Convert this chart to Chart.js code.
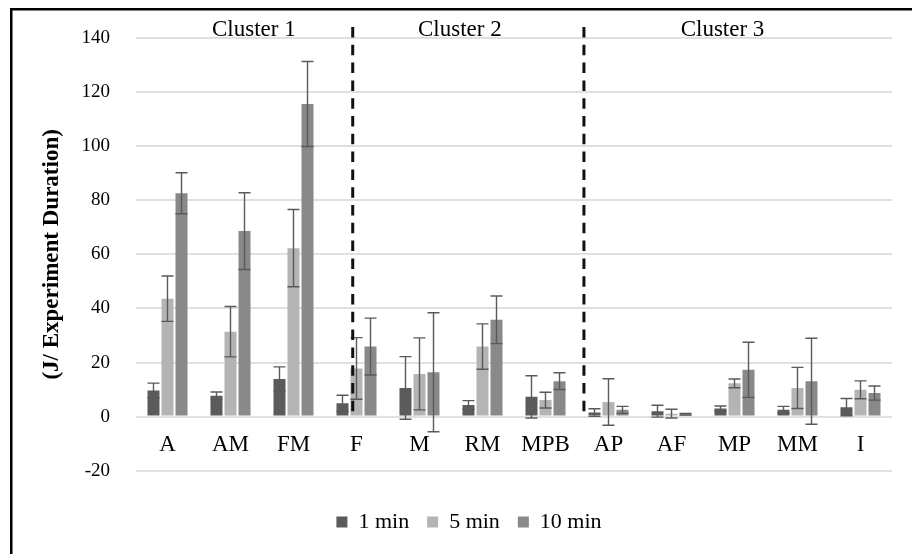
<!DOCTYPE html>
<html><head><meta charset="utf-8">
<script src="https://cdn.jsdelivr.net/npm/chart.js@4"></script>
<style>html,body{margin:0;padding:0;background:#fff}canvas{display:block}</style>
</head><body>
<canvas id="c" width="912" height="554"></canvas>
<script>
// ---- data ----
const categories = ['A','AM','FM','F','M','RM','MPB','AP','AF','MP','MM','I'];
const seriesNames = ['1 min','5 min','10 min'];
const min1  = [9.7, 7.7, 13.9, 4.9, 10.6, 4.3, 7.3, 1.5, 2.0, 3.0, 2.5, 3.5];
const min5  = [43.6, 31.4, 62.3, 17.8, 15.8, 25.9, 6.1, 5.4, 1.1, 12.3, 10.6, 9.9];
const min10 = [82.6, 68.6, 115.6, 25.9, 16.4, 35.8, 13.1, 2.5, 0.9, 17.3, 13.1, 8.7];
const err1  = [2.7, 1.4, 4.5, 3.0, 11.6, 1.6, 7.8, 1.4, 2.2, 0.9, 1.3, 3.2];
const err5  = [8.4, 9.3, 14.3, 11.4, 13.3, 8.4, 2.9, 8.6, 1.6, 1.6, 7.6, 3.3];
const err10 = [7.6, 14.2, 15.7, 10.5, 22.0, 8.8, 3.1, 1.3, 0.3, 10.2, 15.9, 2.6];
const clusterNames = ['Cluster 1','Cluster 2','Cluster 3'];
const yMin = -20, yMax = 140, yStep = 20;

const FONT = "'Liberation Serif','Times New Roman',serif";

const errorBars = {
  id: 'errorBars',
  afterDatasetsDraw(chart, args, opts) {
    const {ctx} = chart; const y = chart.scales.y;
    ctx.save();
    ctx.strokeStyle = opts.color; ctx.lineWidth = opts.width;
    chart.data.datasets.forEach((ds, di) => {
      const meta = chart.getDatasetMeta(di);
      meta.data.forEach((bar, i) => {
        const v = ds.data[i], e = ds.errors[i];
        const yt = y.getPixelForValue(v + e), yb = y.getPixelForValue(v - e);
        const h = bar.width / 2;
        ctx.beginPath();
        ctx.moveTo(bar.x, yt); ctx.lineTo(bar.x, yb);
        ctx.moveTo(bar.x - h, yt); ctx.lineTo(bar.x + h, yt);
        ctx.moveTo(bar.x - h, yb); ctx.lineTo(bar.x + h, yb);
        ctx.stroke();
      });
    });
    ctx.restore();
  }
};

const clusters = {
  id: 'clusters',
  afterLayout(chart, args, opts) {
    if (chart.legend) { chart.legend.left += opts.legendShift; chart.legend.right += opts.legendShift; }
  },
  afterDatasetsDraw(chart, args, opts) {
    const {ctx, chartArea} = chart; const x = chart.scales.x, y = chart.scales.y;
    const p0 = x.getPixelForValue(0), p1 = x.getPixelForValue(1);
    const px = u => p0 + u * (p1 - p0);
    ctx.save();
    ctx.strokeStyle = '#111'; ctx.lineWidth = 3; ctx.setLineDash([10.5, 7.3]);
    opts.dividers.forEach(u => {
      ctx.beginPath();
      ctx.moveTo(px(u), chartArea.top - 11);
      ctx.lineTo(px(u), y.getPixelForValue(0));
      ctx.stroke();
    });
    ctx.setLineDash([]);
    ctx.fillStyle = '#000'; ctx.font = '23px ' + FONT;
    ctx.textAlign = 'center'; ctx.textBaseline = 'middle';
    clusterNames.forEach((t, i) => ctx.fillText(t, px(opts.centers[i]), chartArea.top - 8));
    // outer frame (left and top edges visible)
    ctx.fillStyle = '#000';
    ctx.fillRect(10, 8, 2.5, 554);
    ctx.fillRect(10, 8, 912, 2.5);
    ctx.restore();
  }
};

new Chart(document.getElementById('c'), {
  type: 'bar',
  data: {
    labels: categories,
    datasets: [
      {label: seriesNames[0], data: min1, errors: err1, backgroundColor: '#5b5b5b'},
      {label: seriesNames[1], data: min5, errors: err5, backgroundColor: '#b4b4b4'},
      {label: seriesNames[2], data: min10, errors: err10, backgroundColor: '#898989'}
    ]
  },
  options: {
    responsive: false, animation: false,
    categoryPercentage: 0.667, barPercentage: 0.857,
    layout: {padding: {left: 14, right: 20, top: 38, bottom: 11}},
    scales: {
      x: {
        position: {y: 0},
        grid: {display: false, drawTicks: false},
        border: {display: false},
        ticks: {font: {family: FONT, size: 23}, color: '#000', padding: 15}
      },
      y: {
        min: yMin, max: yMax,
        ticks: {stepSize: yStep, font: {family: FONT, size: 19}, color: '#000', padding: 26},
        grid: {color: '#e0e0e0', lineWidth: 2, drawTicks: false},
        border: {display: false},
        title: {display: true, text: '(J/ Experiment Duration)', color: '#000',
                font: {family: FONT, size: 23, weight: 'bold'}, padding: {top: 24, bottom: 0}},
        afterFit(s) { s.width = 122; }
      }
    },
    plugins: {
      legend: {
        position: 'bottom',
        title: {display: true, text: '', font: {size: 10, lineHeight: 1}, padding: {top: 6, bottom: 6.3}},
        labels: {boxWidth: 11, boxHeight: 11, padding: 18, color: '#000', font: {family: FONT, size: 22}}
      },
      tooltip: {enabled: false},
      errorBars: {color: '#5a5a5a', width: 1.4},
      clusters: {dividers: [2.94, 6.61], centers: [1.37, 4.64, 8.81], legendShift: 16}
    }
  },
  plugins: [errorBars, clusters]
});
</script>
</body></html>
